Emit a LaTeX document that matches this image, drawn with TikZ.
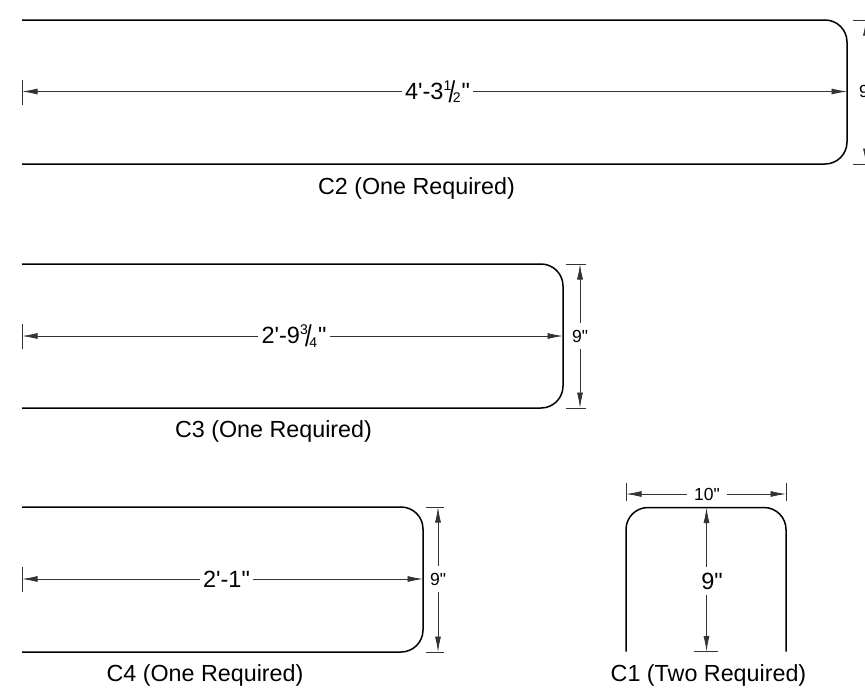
\documentclass[tikz,border=0pt]{standalone}
\usepackage{fontspec}
\setmainfont[Ligatures=TeXOff]{Liberation Sans}
\usetikzlibrary{arrows.meta}
\newcommand{\stackfrac}[2]{\raisebox{9.3pt}{\fontsize{14}{14}\selectfont #1}\kern-2.6pt\raisebox{-3pt}{\scalebox{.8}[1]{\fontsize{30}{30}\selectfont /}}\kern-2.6pt\raisebox{-3.3pt}{\fontsize{14}{14}\selectfont #2}\kern1pt}
\tikzset{
  panel/.style={line width=1.5pt, rounded corners=22pt},
  dimline/.style={line width=0.8pt, black!80, -{Latex[length=15.5pt,width=6pt]}},
  tickline/.style={line width=0.8pt, black!80},
  dimtext/.style={font=\fontsize{23.5}{24}\selectfont, inner sep=3pt, text=black},
  smalltext/.style={font=\fontsize{17.5}{18}\selectfont, inner sep=6.5pt, text=black},
  captext/.style={font=\fontsize{23.3}{24}\selectfont, inner sep=0pt, text=black}
}
\begin{document}
\begin{tikzpicture}[x=1pt,y=-1pt]
\useasboundingbox (0,0) rectangle (865,697);
% C2
\draw[panel] (22,20) -- (847,20) -- (847,164) -- (22,164);
\coordinate (c2left) at (22,91.5);
\coordinate (c2right) at (847,91.5);
\node[dimtext] (c2len) at (437.5,91.5) {4'-3\stackfrac{1}{2}"};
\draw[dimline] (c2len) -- (c2left);
\draw[dimline] (c2len) -- (c2right);
\draw[tickline] (22,80) -- (22,105);
\draw[tickline] (853,20) -- (866,20);
\draw[tickline] (853,164) -- (866,164);
\node[smalltext] (c2h) at (867,91.5) {9"};
\coordinate (c2top) at (866,20);
\coordinate (c2bot) at (866,164);
\draw[dimline] (c2h.north -| c2top) -- (c2top);
\draw[dimline] (c2h.south -| c2bot) -- (c2bot);
\node[captext] (c2cap) at (416.5,188) {C2 (One Required)};
% C3
\draw[panel] (22,264) -- (563,264) -- (563,408) -- (22,408);
\coordinate (c3left) at (22,336);
\coordinate (c3right) at (563,336);
\node[dimtext] (c3len) at (294,336) {2'-9\stackfrac{3}{4}"};
\draw[dimline] (c3len) -- (c3left);
\draw[dimline] (c3len) -- (c3right);
\draw[tickline] (22,324) -- (22,349);
\draw[tickline] (566,264) -- (586,264);
\draw[tickline] (566,408) -- (586,408);
\node[smalltext] (c3h) at (580,336) {9"};
\coordinate (c3top) at (580,264);
\coordinate (c3bot) at (580,408);
\draw[dimline] (c3h) -- (c3top);
\draw[dimline] (c3h) -- (c3bot);
\node[captext] (c3cap) at (273.5,431) {C3 (One Required)};
% C4
\draw[panel] (22,507) -- (423,507) -- (423,652) -- (22,652);
\coordinate (c4left) at (22,579);
\coordinate (c4right) at (423,579);
\node[dimtext] (c4len) at (226.5,579) {2'-1"};
\draw[dimline] (c4len) -- (c4left);
\draw[dimline] (c4len) -- (c4right);
\draw[tickline] (22,567) -- (22,592);
\draw[tickline] (426,507) -- (444,507);
\draw[tickline] (426,652) -- (444,652);
\node[smalltext] (c4h) at (438,579) {9"};
\coordinate (c4top) at (438,507);
\coordinate (c4bot) at (438,652);
\draw[dimline] (c4h) -- (c4top);
\draw[dimline] (c4h) -- (c4bot);
\node[captext] (c4cap) at (205,675) {C4 (One Required)};
% C1
\draw[panel] (626,651.5) -- (626,507.5) -- (786,507.5) -- (786,651.5);
\node[smalltext] (c1w) at (707,494) {10"};
\coordinate (c1left) at (626,494);
\coordinate (c1right) at (786,494);
\draw[dimline] (c1w) -- (c1left);
\draw[dimline] (c1w) -- (c1right);
\draw[tickline] (626,483) -- (626,501);
\draw[tickline] (786,483) -- (786,501);
\node[dimtext, inner sep=5pt] (c1h) at (712,581) {9"};
\coordinate (c1top) at (706.5,507.5);
\coordinate (c1bot) at (706.5,651.5);
\draw[dimline] (c1h.north -| c1top) -- (c1top);
\draw[dimline] (c1h.south -| c1bot) -- (c1bot);
\draw[tickline] (694,651.5) -- (718,651.5);
\node[captext] (c1cap) at (708.5,675) {C1 (Two Required)};
\end{tikzpicture}
\end{document}
